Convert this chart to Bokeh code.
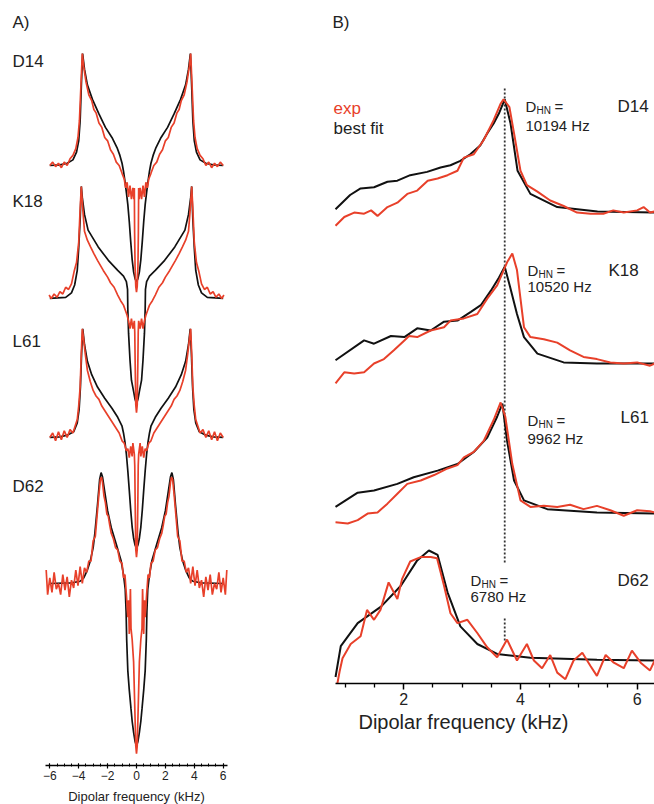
import numpy as np
from bokeh.plotting import figure
from bokeh.models import Label, FixedTicker, Range1d
from bokeh.layouts import row
from bokeh.embed import file_html
from bokeh.resources import INLINE

FONT = "Liberation Sans"
RED = "#e8402a"
BLK = "#111111"

# ---------------- Panel A data: positive-frequency half (kHz), normalised intensity
a_d14_fit_x = [0, 0.1, 0.2, 0.3, 0.4, 0.5, 0.6, 0.7, 0.8, 0.9, 1.0, 1.15, 1.35, 1.7, 2.15, 2.6, 3.05, 3.4, 3.6, 3.73, 3.82, 3.9, 4.0, 4.15, 4.4, 4.8, 5.3, 6.0]
a_d14_fit_y = [-1.04, -1.01, -0.95, -0.84, -0.68, -0.5, -0.35, -0.24, -0.14, -0.05, 0.02, 0.09, 0.16, 0.25, 0.34, 0.46, 0.59, 0.72, 0.86, 1.0, 0.7, 0.4, 0.22, 0.12, 0.05, 0.02, 0.005, 0.0]
a_d14_exp_x = [0, 0.05, 0.1, 0.13, 0.15, 0.18, 0.25, 0.35, 0.45, 0.55, 0.65, 0.75, 0.85, 1.0, 1.2, 1.4, 1.6, 1.8, 2.0, 2.2, 2.4, 2.6, 2.8, 2.95, 3.1, 3.3, 3.5, 3.65, 3.75, 3.85, 3.95, 4.05, 4.2, 4.4, 4.6, 4.8, 5.0, 5.2, 5.4, 5.6, 5.8, 6.0]
a_d14_exp_y = [-1.13, -1.08, -0.9, -0.6, -0.2, -0.3, -0.2, -0.3, -0.18, -0.28, -0.15, -0.2, -0.12, -0.07, 0.0, 0.03, 0.1, 0.14, 0.22, 0.25, 0.34, 0.38, 0.47, 0.5, 0.58, 0.63, 0.75, 0.88, 1.0, 0.7, 0.4, 0.25, 0.15, 0.09, 0.06, 0.0, 0.03, -0.02, 0.02, -0.01, 0.03, 0.0]

a_k18_fit_x = [0, 0.1, 0.2, 0.35, 0.45, 0.55, 0.6, 0.62, 0.7, 0.9, 1.3, 1.95, 2.65, 3.35, 3.6, 3.75, 3.82, 3.9, 4.0, 4.1, 4.28, 4.5, 4.9, 6.0]
a_k18_fit_y = [-0.94, -0.9, -0.83, -0.73, -0.55, -0.31, -0.1, 0.08, 0.15, 0.2, 0.25, 0.34, 0.46, 0.61, 0.75, 0.9, 1.0, 0.7, 0.45, 0.25, 0.12, 0.05, 0.01, 0.0]
a_k18_exp_x = [0, 0.05, 0.09, 0.12, 0.15, 0.25, 0.35, 0.45, 0.55, 0.65, 0.76, 0.9, 1.1, 1.3, 1.55, 1.8, 2.0, 2.3, 2.7, 2.95, 3.18, 3.4, 3.6, 3.72, 3.82, 3.9, 4.0, 4.15, 4.3, 4.5, 4.7, 4.9, 5.1, 5.3, 5.5, 5.7, 5.9, 6.05]
a_k18_exp_y = [-1.02, -0.95, -0.6, -0.3, -0.2, -0.27, -0.18, -0.27, -0.2, -0.15, -0.11, -0.06, -0.02, 0.03, 0.1, 0.14, 0.19, 0.25, 0.34, 0.4, 0.46, 0.52, 0.6, 0.8, 1.0, 0.8, 0.5, 0.32, 0.25, 0.13, 0.08, 0.1, 0.04, 0.06, 0.01, 0.04, 0.0, 0.03]

a_l61_fit_x = [0, 0.1, 0.2, 0.3, 0.4, 0.5, 0.6, 0.7, 0.8, 0.9, 1.0, 1.3, 1.7, 2.2, 2.7, 3.1, 3.4, 3.6, 3.72, 3.8, 3.88, 3.97, 4.1, 4.35, 4.8, 5.3, 6.0]
a_l61_fit_y = [-0.99, -0.96, -0.9, -0.8, -0.65, -0.47, -0.3, -0.15, -0.04, 0.04, 0.1, 0.18, 0.26, 0.35, 0.45, 0.56, 0.68, 0.83, 0.97, 0.75, 0.45, 0.25, 0.13, 0.05, 0.02, 0.005, 0.0]
a_l61_exp_x = [0, 0.05, 0.09, 0.12, 0.15, 0.25, 0.3, 0.4, 0.5, 0.6, 0.7, 0.85, 1.0, 1.2, 1.4, 1.6, 1.8, 2.0, 2.2, 2.4, 2.6, 2.8, 3.0, 3.2, 3.4, 3.55, 3.68, 3.75, 3.82, 3.9, 4.0, 4.1, 4.25, 4.4, 4.6, 4.8, 5.0, 5.2, 5.4, 5.6, 5.8, 6.0]
a_l61_exp_y = [-1.07, -1.0, -0.6, -0.25, -0.15, -0.05, -0.17, -0.08, -0.18, -0.1, -0.12, -0.05, -0.03, 0.04, 0.08, 0.12, 0.16, 0.2, 0.24, 0.28, 0.34, 0.37, 0.42, 0.5, 0.6, 0.75, 0.9, 0.97, 0.75, 0.45, 0.28, 0.16, 0.1, 0.04, 0.07, 0.0, 0.06, -0.02, 0.05, -0.03, 0.04, 0.0]

a_d62_fit_x = [0, 0.1, 0.2, 0.3, 0.38, 0.5, 0.6, 0.68, 0.72, 0.78, 0.9, 1.06, 1.4, 1.75, 2.0, 2.2, 2.35, 2.45, 2.55, 2.7, 2.88, 3.0, 3.2, 3.4, 3.65, 3.9, 4.5, 6.0]
a_d62_fit_y = [-1.45, -1.41, -1.33, -1.23, -1.12, -0.95, -0.78, -0.5, -0.25, -0.05, 0.08, 0.2, 0.35, 0.5, 0.65, 0.82, 0.95, 0.99, 0.93, 0.7, 0.45, 0.32, 0.2, 0.12, 0.05, 0.02, 0.005, 0.0]
a_d62_exp_x = [0, 0.05, 0.1, 0.15, 0.2, 0.3, 0.38, 0.42, 0.45, 0.5, 0.55, 0.6, 0.7, 0.8, 0.9, 1.0, 1.15, 1.3, 1.45, 1.6, 1.75, 1.85, 1.95, 2.05, 2.15, 2.25, 2.35, 2.42, 2.5, 2.6, 2.7, 2.85, 3.0, 3.15, 3.3, 3.45, 3.6, 3.75, 3.9, 4.05, 4.2, 4.35, 4.5, 4.65, 4.8, 4.95, 5.1, 5.25, 5.4, 5.55, 5.7, 5.85, 6.0, 6.15, 6.25]
a_d62_exp_y = [-1.52, -1.45, -1.2, -0.95, -0.7, -0.5, -0.4, -0.05, -0.2, -0.45, -0.15, -0.3, -0.1, 0.08, 0.05, 0.18, 0.2, 0.3, 0.32, 0.4, 0.45, 0.52, 0.6, 0.62, 0.72, 0.78, 0.9, 0.95, 0.93, 0.8, 0.65, 0.42, 0.38, 0.2, 0.2, 0.1, 0.14, 0.0, 0.15, -0.02, 0.12, -0.04, 0.03, -0.12, 0.06, -0.06, 0.08, -0.1, 0.0, -0.05, 0.1, -0.08, 0.05, -0.1, 0.12]

a_names = ["D14", "K18", "L61", "D62"]
a_ticks = [-6, -4, -2, 0, 2, 4, 6]

# ---------------- Panel B data (kHz, normalised intensity)
b_d14_fit_x = [0.83, 1.08, 1.26, 1.49, 1.72, 1.89, 2.11, 2.40, 2.63, 2.80, 2.97, 3.14, 3.31, 3.43, 3.54, 3.63, 3.73, 3.83, 3.95, 4.17, 4.63, 5.32, 6.3]
b_d14_fit_y = [0.02, 0.15, 0.21, 0.22, 0.27, 0.28, 0.33, 0.36, 0.40, 0.42, 0.46, 0.52, 0.60, 0.71, 0.80, 0.89, 1.02, 0.80, 0.37, 0.16, 0.04, 0.0, -0.01]
b_d14_exp_x = [0.83, 0.98, 1.15, 1.32, 1.44, 1.55, 1.72, 1.89, 2.06, 2.23, 2.41, 2.58, 2.75, 2.92, 3.03, 3.20, 3.37, 3.54, 3.66, 3.71, 3.81, 3.89, 4.0, 4.11, 4.29, 4.51, 4.74, 4.97, 5.20, 5.42, 5.59, 5.77, 6.0, 6.11, 6.22, 6.3]
b_d14_exp_y = [-0.13, -0.05, -0.01, -0.02, 0.01, -0.04, 0.04, 0.08, 0.16, 0.19, 0.28, 0.30, 0.33, 0.37, 0.49, 0.52, 0.65, 0.83, 0.98, 1.02, 0.95, 0.71, 0.37, 0.24, 0.18, 0.10, 0.05, -0.01, -0.02, -0.02, 0.01, -0.01, 0.01, 0.04, -0.01, 0.0]

b_k18_fit_x = [0.83, 1.32, 1.49, 1.78, 2.01, 2.23, 2.46, 2.69, 2.92, 3.15, 3.32, 3.49, 3.63, 3.73, 3.82, 3.94, 4.06, 4.29, 4.74, 5.31, 6.3]
b_k18_fit_y = [0.03, 0.21, 0.18, 0.25, 0.24, 0.32, 0.30, 0.38, 0.39, 0.47, 0.53, 0.66, 0.78, 0.88, 0.70, 0.45, 0.24, 0.09, 0.01, 0.0, 0.0]
b_k18_exp_x = [0.83, 0.98, 1.15, 1.32, 1.49, 1.66, 1.83, 2.01, 2.09, 2.23, 2.46, 2.69, 2.80, 3.03, 3.26, 3.43, 3.60, 3.77, 3.86, 3.94, 4.06, 4.17, 4.40, 4.63, 4.85, 5.08, 5.31, 5.54, 5.77, 6.0, 6.22, 6.3]
b_k18_exp_y = [-0.18, -0.08, -0.09, -0.08, 0.0, 0.04, 0.12, 0.21, 0.25, 0.24, 0.30, 0.33, 0.39, 0.41, 0.45, 0.59, 0.71, 0.92, 1.0, 0.85, 0.33, 0.24, 0.22, 0.19, 0.12, 0.06, 0.04, 0.01, 0.0, 0.01, -0.02, 0.0]

b_l61_fit_x = [0.83, 1.21, 1.49, 1.89, 2.17, 2.58, 2.92, 3.20, 3.43, 3.60, 3.69, 3.77, 3.89, 4.06, 4.46, 5.31, 6.3]
b_l61_fit_y = [0.05, 0.18, 0.20, 0.26, 0.32, 0.38, 0.44, 0.55, 0.68, 0.87, 0.99, 0.65, 0.29, 0.11, 0.03, 0.0, -0.01]
b_l61_exp_x = [0.83, 1.04, 1.21, 1.38, 1.55, 1.72, 1.89, 2.06, 2.29, 2.52, 2.75, 2.92, 3.03, 3.20, 3.37, 3.54, 3.66, 3.74, 3.86, 4.0, 4.17, 4.40, 4.63, 4.85, 5.08, 5.31, 5.54, 5.77, 6.0, 6.22, 6.3]
b_l61_exp_y = [-0.09, -0.10, -0.07, -0.01, 0.0, 0.08, 0.17, 0.26, 0.29, 0.34, 0.40, 0.43, 0.50, 0.55, 0.65, 0.84, 1.0, 0.87, 0.44, 0.11, 0.05, 0.06, 0.05, 0.07, 0.03, 0.06, 0.02, -0.03, 0.02, 0.01, 0.0]

b_d62_fit_x = [0.83, 0.92, 1.21, 1.61, 1.95, 2.23, 2.43, 2.58, 2.75, 2.97, 3.26, 3.60, 4.17, 5.31, 6.3]
b_d62_fit_y = [-0.15, 0.13, 0.34, 0.49, 0.68, 0.91, 1.0, 0.96, 0.62, 0.31, 0.15, 0.06, 0.025, 0.006, 0.0]
b_d62_exp_x = [0.83, 0.9, 0.95, 1.09, 1.26, 1.37, 1.49, 1.60, 1.74, 1.89, 1.97, 2.11, 2.29, 2.46, 2.57, 2.69, 2.80, 2.92, 3.09, 3.26, 3.43, 3.60, 3.77, 3.94, 4.11, 4.23, 4.37, 4.51, 4.63, 4.77, 4.91, 5.06, 5.20, 5.31, 5.46, 5.60, 5.77, 5.91, 6.06, 6.22, 6.3]
b_d62_exp_y = [-0.3, -0.1, 0.02, 0.15, 0.22, 0.46, 0.37, 0.46, 0.71, 0.56, 0.74, 0.90, 0.94, 0.94, 0.93, 0.68, 0.43, 0.34, 0.37, 0.25, 0.12, 0.03, 0.19, 0.0, 0.15, 0.0, -0.07, 0.05, -0.11, -0.17, 0.0, 0.07, -0.05, -0.14, 0.05, -0.02, -0.07, 0.09, -0.02, -0.09, 0.0]

b_dhn = ["10194 Hz", "10520 Hz", "9962 Hz", "6780 Hz"]
b_ticks = [2, 4, 6]
ref_freq = 3.73  # kHz, D14 peak position (dotted line)

# ---------------- layout constants (positions, not data)
a_offsets = [5.357, 4.17, 2.929, 1.625]
b_offsets = [4.291, 2.909, 1.555, 0.209]


def mirror(x, y):
    x = np.asarray(x, float)
    y = np.asarray(y, float)
    return np.concatenate([-x[::-1], x[1:]]), np.concatenate([y[::-1], y[1:]])


def style_fig(p):
    p.xgrid.visible = False
    p.ygrid.visible = False
    p.outline_line_color = None
    p.background_fill_color = "white"
    p.border_fill_color = "white"


# ---------------- Panel A
pA = figure(frame_width=272, frame_height=765, x_range=Range1d(-9.412, 9.412), y_range=Range1d(0, 6.830),
            output_backend="svg", toolbar_location=None, y_axis_location=None,
            min_border_left=0, min_border_right=0, min_border_top=0, min_border_bottom=0)
style_fig(pA)

a_fit = [(a_d14_fit_x, a_d14_fit_y), (a_k18_fit_x, a_k18_fit_y), (a_l61_fit_x, a_l61_fit_y), (a_d62_fit_x, a_d62_fit_y)]
a_exp = [(a_d14_exp_x, a_d14_exp_y), (a_k18_exp_x, a_k18_exp_y), (a_l61_exp_x, a_l61_exp_y), (a_d62_exp_x, a_d62_exp_y)]
for (fx, fy), (ex, ey), off in zip(a_fit, a_exp, a_offsets):
    mx, my = mirror(fx, fy)
    pA.line(mx, my + off, line_color=BLK, line_width=1.7)
    mx, my = mirror(ex, ey)
    pA.line(mx, my + off, line_color=RED, line_width=1.7)

ax = pA.xaxis[0]
ax.bounds = (-6.3, 6.3)
ax.ticker = FixedTicker(ticks=a_ticks, minor_ticks=list(np.arange(-6, 6.01, 0.5)))
ax.axis_line_width = 1.3
ax.major_tick_in = 2
ax.major_tick_out = 3
ax.minor_tick_in = 2
ax.minor_tick_out = 1
ax.major_tick_line_width = 1.2
ax.minor_tick_line_width = 1.0
ax.major_label_text_font = FONT
ax.major_label_text_font_size = "12px"
ax.major_label_text_color = "#222222"
ax.major_label_standoff = 2
ax.axis_label = "Dipolar frequency (kHz)"
ax.axis_label_text_font = FONT
ax.axis_label_text_font_size = "13px"
ax.axis_label_text_font_style = "normal"
ax.axis_label_text_color = "#222222"
ax.axis_label_standoff = 6

a_label_y = [6.286, 5.036, 3.786, 2.491]
pA.add_layout(Label(x=-8.58, y=6.634, text="A)", text_font=FONT, text_font_size="17px", text_baseline="middle", text_color="#222222"))
for name, ly in zip(a_names, a_label_y):
    pA.add_layout(Label(x=-8.58, y=ly, text=name, text_font=FONT, text_font_size="17px", text_baseline="middle", text_color="#222222"))

# ---------------- Panel B
pB = figure(frame_width=382, frame_height=683, x_range=Range1d(-0.250, 6.297), y_range=Range1d(0, 6.209),
            output_backend="svg", toolbar_location=None, y_axis_location=None,
            min_border_left=0, min_border_right=0, min_border_top=0, min_border_bottom=0)
style_fig(pB)

# dotted reference line (broken behind the D62 annotation)
pB.segment(x0=[ref_freq, ref_freq], y0=[5.409, 0.591], x1=[ref_freq, ref_freq], y1=[1.091, 0.391],
           line_color="#333333", line_width=1.8, line_dash="2 2")

b_fit = [(b_d14_fit_x, b_d14_fit_y), (b_k18_fit_x, b_k18_fit_y), (b_l61_fit_x, b_l61_fit_y), (b_d62_fit_x, b_d62_fit_y)]
b_exp = [(b_d14_exp_x, b_d14_exp_y), (b_k18_exp_x, b_k18_exp_y), (b_l61_exp_x, b_l61_exp_y), (b_d62_exp_x, b_d62_exp_y)]
for (fx, fy), (ex, ey), off in zip(b_fit, b_exp, b_offsets):
    pB.line(fx, np.asarray(fy) + off, line_color=BLK, line_width=2.0)
    pB.line(ex, np.asarray(ey) + off, line_color=RED, line_width=2.0)

bx = pB.xaxis[0]
bx.bounds = (0.83, 6.3)
bx.ticker = FixedTicker(ticks=b_ticks, minor_ticks=[1, 1.5, 2.5, 3, 3.5, 4.5, 5, 5.5])
bx.axis_line_width = 1.5
bx.major_tick_in = 0
bx.major_tick_out = 6
bx.minor_tick_in = 0
bx.minor_tick_out = 4
bx.major_tick_line_width = 1.5
bx.minor_tick_line_width = 1.3
bx.major_label_text_font = FONT
bx.major_label_text_font_size = "16px"
bx.major_label_text_color = "#222222"
bx.major_label_standoff = 3
bx.axis_label = "Dipolar frequency (kHz)"
bx.axis_label_text_font = FONT
bx.axis_label_text_font_size = "20px"
bx.axis_label_text_font_style = "normal"
bx.axis_label_text_color = "#222222"
bx.axis_label_standoff = 3

txt = dict(text_font=FONT, text_baseline="middle", text_color="#222222")
pB.add_layout(Label(x=0.778, y=6.009, text="B)", text_font_size="17px", **txt))
pB.add_layout(Label(x=0.795, y=5.227, text="exp", text_font=FONT, text_baseline="middle", text_color=RED, text_font_size="17px"))
pB.add_layout(Label(x=0.795, y=5.045, text="best fit", text_font_size="17px", **txt))

dhn_pos = [(4.086, 5.245, 5.073), (4.12, 3.755, 3.609), (4.12, 2.391, 2.227), (3.143, 0.936, 0.791)]
name_pos = [(5.662, 5.245), (5.508, 3.755), (5.714, 2.418), (5.662, 0.936)]
for (dx, dy1, dy2), (nx, ny), val, name in zip(dhn_pos, name_pos, b_dhn, a_names):
    pB.add_layout(Label(x=dx, y=dy1, text="D", text_font_size="15px", **txt))
    pB.add_layout(Label(x=dx, y=dy1, x_offset=11, y_offset=-4, text="HN", text_font_size="10px", **txt))
    pB.add_layout(Label(x=dx, y=dy1, x_offset=29, text="=", text_font_size="15px", **txt))
    pB.add_layout(Label(x=dx, y=dy2, text=val, text_font_size="15px", **txt))
    pB.add_layout(Label(x=nx, y=ny, text=name, text_font_size="17px", **txt))

layout = row(pA, pB)
open("out.html", "w").write(file_html(layout, INLINE))
